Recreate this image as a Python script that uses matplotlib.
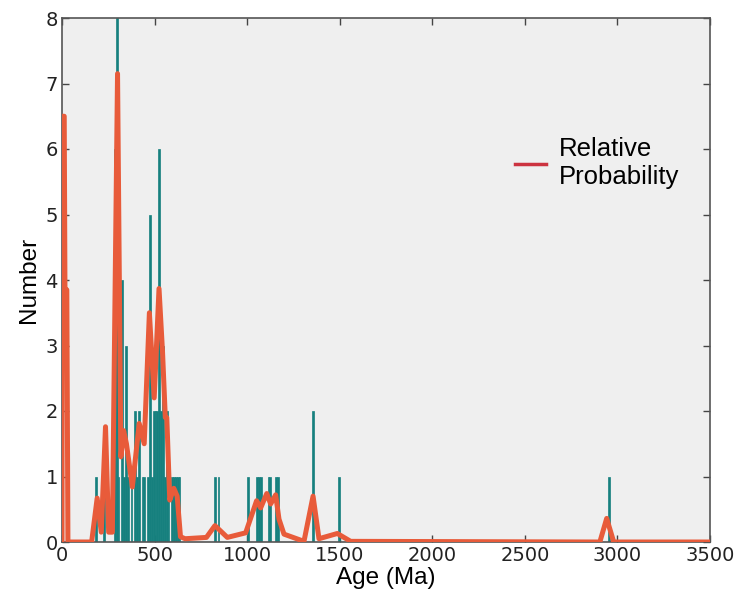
import matplotlib
matplotlib.use("Agg")
import matplotlib.pyplot as plt

# Histogram bins (left edge, Ma) and counts
bin_left = [180, 220, 280, 290, 300, 320, 330, 340, 350, 370, 390, 400, 410,
            430, 440, 460, 470, 480, 490, 500, 510, 520, 530, 540, 550, 560,
            570, 590, 600, 610, 620, 630,
            820, 840, 1000, 1050, 1060, 1070, 1110, 1120, 1150, 1160,
            1350, 1490, 2950]
counts = [1, 1, 6, 8, 1, 4, 1, 3, 1, 1, 2, 1, 2,
          1, 1, 1, 5, 1, 2, 2, 2, 6, 2, 3, 1, 2,
          1, 1, 1, 1, 1, 1,
          1, 1, 1, 1, 1, 1, 1, 1, 1, 1,
          2, 1, 1]
bin_width = 10

# Relative probability curve
prob_age = [0, 2, 12, 16, 26, 32, 160, 190, 212, 235, 252, 272, 300, 318, 333,
            348, 380, 417, 444, 472, 498, 524, 543, 558, 566, 582, 604, 622,
            640, 665, 780, 826, 893, 992, 1051, 1073, 1106, 1127, 1154, 1172,
            1199, 1307, 1356, 1388, 1487, 1559, 2905, 2942, 2980, 3500]
prob_val = [0, 6.5, 6.5, 3.85, 3.85, 0, 0, 0.67, 0.15, 1.76, 0.15, 0.15, 7.15,
            1.3, 1.7, 1.5, 0.84, 1.81, 1.5, 3.5, 2.2, 3.87, 2.9, 1.9, 1.9, 0.64,
            0.82, 0.7, 0.08, 0.05, 0.07, 0.25, 0.07, 0.14, 0.63, 0.52, 0.74,
            0.58, 0.72, 0.35, 0.12, 0.01, 0.70, 0.05, 0.13, 0.01, 0.0, 0.36,
            0.0, 0.0]

teal = "#16807e"
orange = "#e85b3a"

fig = plt.figure(figsize=(7.39, 5.94), dpi=100)
ax = fig.add_axes([62 / 739, 52 / 594, 648 / 739, 524 / 594])
ax.set_facecolor("#efefef")

ax.bar(bin_left, counts, width=bin_width, align="edge", color=teal,
       edgecolor=teal, linewidth=0.5, zorder=2)
ax.plot(prob_age, prob_val, color=orange, lw=3.6, solid_joinstyle="round",
        zorder=3, label="Relative\nProbability")

ax.set_xlim(0, 3500)
ax.set_ylim(0, 8)
ax.set_xticks(range(0, 3501, 500))
ax.set_yticks(range(0, 9))

ax.tick_params(direction="in", top=True, right=True, length=5, width=1,
               colors="#444444", labelcolor="#222222", labelsize=14, pad=3)

for s in ax.spines.values():
    s.set_color("#555555")
    s.set_linewidth(1.2)

ax.set_xlabel("Age (Ma)", fontsize=17.5, family="Liberation Sans", labelpad=1)
ax.set_ylabel("Number", fontsize=17.5, family="Liberation Sans", labelpad=4)

leg = ax.legend(loc="center left", bbox_to_anchor=(0.699, 0.723),
                frameon=False, borderpad=0, borderaxespad=0,
                handlelength=1.2, handletextpad=0.5,
                prop={"family": "Liberation Sans", "size": 18.5})
leg.get_lines()[0].set_color("#cc3340")
leg.get_lines()[0].set_linewidth(2.5)

fig.savefig("out.png", dpi=100)
